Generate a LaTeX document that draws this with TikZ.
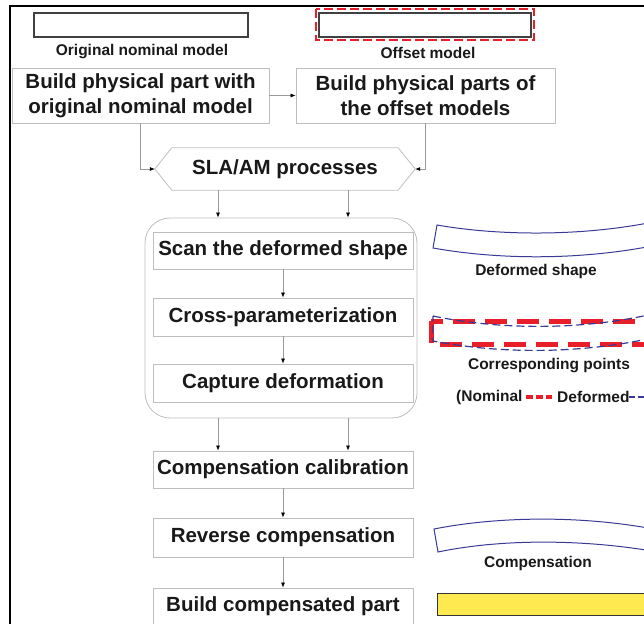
\documentclass[tikz,border=0pt]{standalone}
\usepackage{fontspec}
\setmainfont{Liberation Sans}
\usepackage{tikz}
\usetikzlibrary{calc, positioning, arrows.meta}
\definecolor{boxgray}{RGB}{190, 190, 190}
\definecolor{partblue}{RGB}{58, 58, 150}
\definecolor{offred}{RGB}{232, 30, 40}
\definecolor{partyellow}{RGB}{255, 233, 80}

\begin{document}
\begin{tikzpicture}[x=1pt, y=-1pt,
  stepbox/.style={draw=boxgray, line width=0.8pt, fill=white, minimum width=260pt,
    minimum height=37pt, inner sep=0pt, text=black!90,
    font=\fontsize{20.5}{25}\selectfont\bfseries},
  bigbox/.style={stepbox, minimum height=55pt, align=center},
  conn/.style={draw=black!40, line width=0.7pt, -{Latex[length=5pt, width=4pt, color=black]}},
  partlabel/.style={inner sep=0pt, text=black!90, font=\fontsize{15.5}{18}\selectfont\bfseries},
  modelbox/.style={draw=black!75, line width=1.2pt},
  bentpart/.style={draw=partblue, line width=1pt}]
  \useasboundingbox (0,0) rectangle (644,623);
  \clip (0,0) rectangle (644,623);

  % Outer frame (cut at right and bottom)
  \draw[line width=2pt] (9.5,640) -- (9.5,6.5) -- (660,6.5);

  % Nominal and offset models
  \draw[modelbox] (34,13) rectangle (248,37);
  \node[partlabel] (nomlbl) at (142,52) {Original nominal model};
  \draw[offred, line width=2.2pt, dash pattern=on 9pt off 4pt] (316,9) rectangle (534,40);
  \draw[modelbox] (319,13) rectangle (531,37);
  \node[partlabel] (offlbl) at (428,53) {Offset model};

  % Build steps
  \node[bigbox, minimum width=257pt] (build1) at (140.5,95.5) {Build physical part with\\original nominal model};
  \node[bigbox, minimum width=259pt] (build2) at (425.5,95.5) {Build physical parts of\\the offset models};
  \draw[conn] (build1) -- (build2);

  % SLA/AM hexagon
  \node[inner sep=0pt, minimum width=226pt, minimum height=42pt, text=black!90,
    font=\fontsize{20.5}{25}\selectfont\bfseries] (sla) at (285,169) {SLA/AM processes};
  \coordinate (slaL) at ($(sla.west)+(-17,0)$);
  \coordinate (slaR) at ($(sla.east)+(17,0)$);
  \draw[draw=boxgray, line width=0.8pt] (slaL) -- (sla.north west) -- (sla.north east)
    -- (slaR) -- (sla.south east) -- (sla.south west) -- cycle;
  \draw[conn] (build1.south) |- (slaL);
  \draw[conn] (build2.south) |- (slaR);

  % Measurement loop
  \node[draw=boxgray, line width=0.8pt, rounded corners=25pt, minimum width=272pt,
    minimum height=200pt] (loop) at (281,318) {};
  \draw[conn] (218,0 |- sla.south) -- (218,0 |- loop.north);
  \draw[conn] (348,0 |- sla.south) -- (348,0 |- loop.north);

  \node[stepbox] (scan) at (283,250.5) {Scan the deformed shape};
  \node[stepbox, minimum height=38pt] (cross) at (283,317) {Cross-parameterization};
  \node[stepbox, minimum height=38pt] (capture) at (283,383) {Capture deformation};
  \draw[conn] (scan) -- (cross);
  \draw[conn] (cross) -- (capture);

  % Compensation steps
  \node[stepbox] (calib) at (283,469.5) {Compensation calibration};
  \node[stepbox, minimum height=39pt] (reverse) at (283,537.5) {Reverse compensation};
  \node[stepbox] (buildc) at (283,606.5) {Build compensated part};
  \draw[conn] (218,0 |- loop.south) -- (218,0 |- calib.north);
  \draw[conn] (348,0 |- loop.south) -- (348,0 |- calib.north);
  \draw[conn] (calib) -- (reverse);
  \draw[conn] (reverse) -- (buildc);

  % Deformed shape
  \draw[bentpart] (437,225) .. controls (500,236) and (580,236) .. (648,223)
    -- (652,246) .. controls (580,260) and (500,260) .. (433,248) -- cycle;
  \node[partlabel] (deflbl) at (536,271) {Deformed shape};

  % Corresponding points
  \draw[offred, line width=5pt, dash pattern=on 22pt off 10pt] (431,321) rectangle (670,344);
  \draw[partblue, line width=1.2pt, dash pattern=on 8pt off 4pt]
    (433,316) .. controls (500,330) and (580,330) .. (648,315)
    -- (652,338) .. controls (580,354) and (500,354) .. (433,341) -- cycle;
  \node[partlabel] (corlbl) at (549,366) {Corresponding points};
  \node[partlabel, anchor=west] (nomkey) at (456,397) {(Nominal};
  \draw[offred, line width=3.5pt, dash pattern=on 7pt off 3pt] (526,397) -- (552,397);
  \node[partlabel, anchor=west] (defkey) at (557,397) {Deformed};
  \draw[partblue, line width=1.2pt, dash pattern=on 6pt off 3pt] (629,397) -- (660,397);

  % Compensation shape
  \draw[bentpart] (434,529) .. controls (500,516) and (580,516) .. (648,528)
    -- (652,551) .. controls (580,539) and (500,539) .. (438,552) -- cycle;
  \node[partlabel] (complbl) at (538,563) {Compensation};

  % Compensated part
  \draw[fill=partyellow, draw=black!80, line width=1pt] (437,593) rectangle (670,615);
\end{tikzpicture}
\end{document}
